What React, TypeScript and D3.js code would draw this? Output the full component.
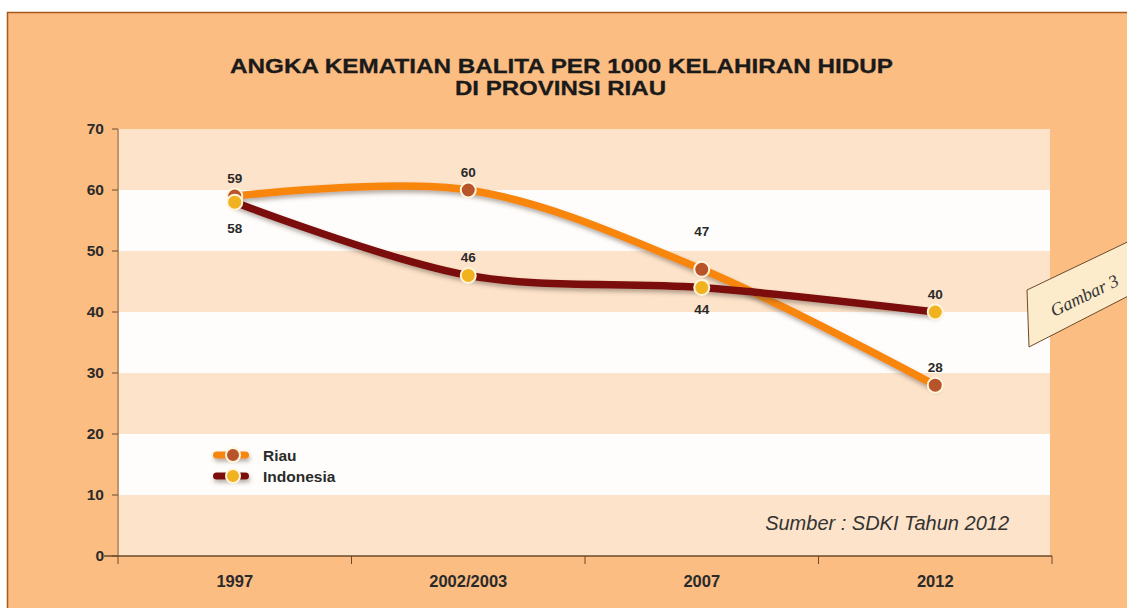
import React from "react";
import * as d3 from "d3";

const categories = ["1997", "2002/2003", "2007", "2012"];
const riau = [59, 60, 47, 28];
const indonesia = [58, 46, 44, 40];
const yTicks = [0, 10, 20, 30, 40, 50, 60, 70];
const riauLabelPos = ["above", "above", "above", "above"];
const indoLabelPos = ["below", "above", "below", "above"];

const W = 1127, H = 608;
const M = { left: 118, right: 1052, top: 129, bottom: 556 };

export default function App() {
  const x = d3.scaleBand<string>().domain(categories).range([M.left, M.right]).padding(0);
  const y = d3.scaleLinear().domain([0, 70]).range([M.bottom, M.top]);
  const cx = (c: string) => (x(c) as number) + x.bandwidth() / 2;
  const line = d3
    .line<number>()
    .x((_, i) => cx(categories[i]))
    .y((d) => y(d))
    .curve(d3.curveCatmullRom.alpha(0.5));

  const bands = d3.range(0, 70, 10);
  const font = "'Liberation Sans', Arial, sans-serif";

  return (
    <svg width={W} height={H} style={{ position: "absolute", left: 0, top: 0, display: "block" }}>
      <defs>
        <filter id="sh" filterUnits="userSpaceOnUse" x="0" y="0" width={W} height={H}>
          <feDropShadow dx="1" dy="3" stdDeviation="2" floodColor="#5a4a40" floodOpacity="0.45" />
        </filter>
      </defs>
      <rect x={0} y={0} width={W} height={H} fill="#ffffff" />
      <rect x={7.5} y={12.5} width={W} height={H} fill="#fbbd82" stroke="#a85a1e" strokeWidth={1.5} />
      {/* plot bands */}
      {bands.map((b) => (
        <rect
          key={b}
          x={M.left + 1}
          y={y(b + 10)}
          width={M.right - M.left - 3}
          height={y(b) - y(b + 10)}
          fill={(b / 10) % 2 === 0 ? "#fde3c9" : "#fffdfb"}
        />
      ))}
      {/* title */}
      <text x={230} y={73} textLength={663} lengthAdjust="spacingAndGlyphs" fontFamily={font} fontWeight="bold" fontSize={20.5} fill="#1a1a1a" stroke="#1a1a1a" strokeWidth={0.3}>
        ANGKA KEMATIAN BALITA PER 1000 KELAHIRAN HIDUP
      </text>
      <text x={455} y={95} textLength={211} lengthAdjust="spacingAndGlyphs" fontFamily={font} fontWeight="bold" fontSize={20.5} fill="#1a1a1a" stroke="#1a1a1a" strokeWidth={0.3}>
        DI PROVINSI RIAU
      </text>
      {/* y axis */}
      <line x1={M.left} x2={M.left} y1={M.top} y2={M.bottom} stroke="#8a6a4a" strokeWidth={1} />
      {yTicks.map((t) => (
        <g key={t}>
          <line x1={M.left - 6} x2={M.left} y1={y(t)} y2={y(t)} stroke="#6b4a2a" />
          <text x={M.left - 14} y={y(t) + 5} textAnchor="end" fontFamily={font} fontWeight="bold" fontSize={15.5} fill="#2a2a2a">
            {t}
          </text>
        </g>
      ))}
      {/* x axis */}
      <line x1={M.left - 14} x2={M.right} y1={M.bottom} y2={M.bottom} stroke="#6b4a2a" strokeWidth={1.5} />
      {categories.map((c, i) => (
        <line key={"t" + i} x1={x(c) as number} x2={x(c) as number} y1={M.bottom} y2={M.bottom + 8} stroke="#6b4a2a" />
      ))}
      <line x1={M.right} x2={M.right} y1={M.bottom} y2={M.bottom + 8} stroke="#6b4a2a" />
      {categories.map((c) => (
        <text key={c} x={cx(c)} y={M.bottom + 31} textAnchor="middle" fontFamily={font} fontWeight="bold" fontSize={16.5} fill="#2a2a2a">
          {c}
        </text>
      ))}
      {/* lines */}
      <path d={line(riau) || ""} fill="none" stroke="#f8860c" strokeWidth={7.5} strokeLinecap="round" filter="url(#sh)" />
      <path d={line(indonesia) || ""} fill="none" stroke="#7c0a0a" strokeWidth={7.5} strokeLinecap="round" filter="url(#sh)" />
      {/* markers */}
      {riau.map((v, i) => (
        <circle key={"r" + i} cx={cx(categories[i])} cy={y(v)} r={7.5} fill="#b8542a" stroke="#fff4dc" strokeWidth={2} />
      ))}
      {indonesia.map((v, i) => (
        <circle key={"n" + i} cx={cx(categories[i])} cy={y(v)} r={7.5} fill="#f0b21e" stroke="#fff4dc" strokeWidth={2} />
      ))}
      {/* data labels */}
      {riau.map((v, i) => (
        <text key={"rl" + i} x={cx(categories[i])} y={riauLabelPos[i] === "above" ? y(v) - 13 - (i === 2 ? 20 : 0) : y(v) + 22}
          textAnchor="middle" fontFamily={font} fontWeight="bold" fontSize={13.5} fill="#2a2a2a">
          {v}
        </text>
      ))}
      {indonesia.map((v, i) => (
        <text key={"nl" + i} x={cx(categories[i])} y={indoLabelPos[i] === "above" ? y(v) - 13 : y(v) + 31 - (i === 2 ? 5 : 0)}
          textAnchor="middle" fontFamily={font} fontWeight="bold" fontSize={13.5} fill="#2a2a2a">
          {v}
        </text>
      ))}
      {/* legend */}
      <g fontFamily={font} fontWeight="bold" fontSize={15.5} fill="#2a2a2a">
        <rect x={213} y={451.5} width={36} height={7} rx={3.5} fill="#f8860c" filter="url(#sh)" />
        <circle cx={233} cy={455} r={7} fill="#b8542a" stroke="#fff4dc" strokeWidth={2} />
        <text x={263} y={461}>Riau</text>
        <rect x={213} y={472.5} width={36} height={7} rx={3.5} fill="#7c0a0a" filter="url(#sh)" />
        <circle cx={233} cy={476} r={7} fill="#f0b21e" stroke="#fff4dc" strokeWidth={2} />
        <text x={263} y={482}>Indonesia</text>
      </g>
      {/* source */}
      <text x={1009} y={530} textAnchor="end" fontFamily={font} fontStyle="italic" fontSize={20} fill="#333">
        Sumber : SDKI Tahun 2012
      </text>
      {/* Gambar tag */}
      <polygon points="1027,290 1140,236 1140,290 1029,347" fill="#fdeccc" stroke="#6b4a2a" strokeWidth={1} />
      <text x={1054} y={317} transform="rotate(-26 1054 317)" fontFamily="'Liberation Serif', 'DejaVu Serif', serif" fontStyle="italic" fontSize={18} fill="#333">
        Gambar 3
      </text>
    </svg>
  );
}
